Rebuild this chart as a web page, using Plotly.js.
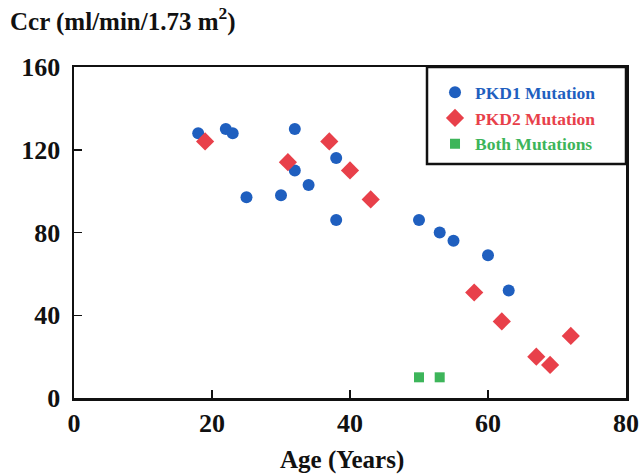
<!DOCTYPE html>
<html>
<head>
<meta charset="utf-8">
<script src="https://cdn.plot.ly/plotly-3.0.1.min.js"></script>
<style>html,body{margin:0;padding:0;background:#fff;}#chart{width:640px;height:476px;}</style>
</head>
<body>
<div id="chart"></div>
<script>
// Data
const pkd1Age = [18, 22, 23, 25, 30, 32, 32, 34, 38, 38, 50, 53, 55, 60, 63];
const pkd1Ccr = [128, 130, 128, 97, 98, 130, 110, 103, 116, 86, 86, 80, 76, 69, 52];
const pkd2Age = [19, 31, 37, 40, 43, 58, 62, 67, 69, 72];
const pkd2Ccr = [124, 114, 124, 110, 96, 51, 37, 20, 16, 30];
const bothAge = [50, 53];
const bothCcr = [10, 10];
const xTicks = [0, 20, 40, 60, 80];
const yTicks = [0, 40, 80, 120, 160];
const seriesNames = ["PKD1 Mutation", "PKD2 Mutation", "Both Mutations"];

const serif = "'Liberation Serif', 'Times New Roman', serif";
const blue = "#1f5fbf", red = "#e8404a", green = "#3db55a";

const traces = [
  {x: pkd1Age, y: pkd1Ccr, name: seriesNames[0], mode: "markers", type: "scatter",
   marker: {symbol: "circle", size: 12, color: blue}},
  {x: pkd2Age, y: pkd2Ccr, name: seriesNames[1], mode: "markers", type: "scatter",
   marker: {symbol: "diamond", size: 14, color: red}},
  {x: bothAge, y: bothCcr, name: seriesNames[2], mode: "markers", type: "scatter",
   marker: {symbol: "square", size: 10, color: green}}
];

const axisCommon = {
  showline: true, mirror: true, linecolor: "#111", linewidth: 2.5,
  ticks: "inside", ticklen: 8, tickwidth: 1.5, tickcolor: "#111",
  showgrid: false, zeroline: false,
  tickfont: {family: serif, size: 26, color: "#111", weight: "bold"}
};

const layout = {
  width: 640, height: 476,
  margin: {l: 74, r: 14, t: 67, b: 78},
  paper_bgcolor: "#fff", plot_bgcolor: "#fff",
  showlegend: true,
  xaxis: Object.assign({}, axisCommon, {
    range: [0, 80], tickvals: xTicks, ticktext: xTicks.map(String)
  }),
  yaxis: Object.assign({}, axisCommon, {
    range: [0, 160], tickvals: yTicks, ticktext: yTicks.map(String),
    ticklabelstandoff: 6
  }),
  legend: {
    x: 0.654, xanchor: "left", y: 0.978, yanchor: "top",
    bgcolor: "rgba(0,0,0,0)", borderwidth: 0,
    font: {family: serif, size: 17.5, weight: "bold"},
    tracegroupgap: 0
  },
  shapes: [{
    type: "rect", xref: "paper", yref: "paper",
    x0: 0.6395, x1: 1, y0: 0.707, y1: 1,
    line: {color: "#111", width: 2.5}, fillcolor: "rgba(0,0,0,0)"
  }],
  annotations: [{
    xref: "paper", yref: "paper", x: -0.12, y: 1.142, xanchor: "left", yanchor: "middle",
    text: "Ccr (ml/min/1.73 m<sup>2</sup>)", showarrow: false,
    font: {family: serif, size: 25, color: "#111", weight: "bold"}
  }, {
    xref: "paper", yref: "paper", x: 0.4855, y: -0.187, xanchor: "center", yanchor: "middle",
    text: "Age (Years)", showarrow: false,
    font: {family: serif, size: 25, color: "#111", weight: "bold"}
  }]
};

Plotly.newPlot("chart", traces, layout, {displayModeBar: false, staticPlot: true}).then(() => {
  // color legend texts to match their series
  const cols = [blue, red, green];
  document.querySelectorAll(".legendtext").forEach((t, i) => { t.style.fill = cols[i]; });
});
</script>
</body>
</html>
